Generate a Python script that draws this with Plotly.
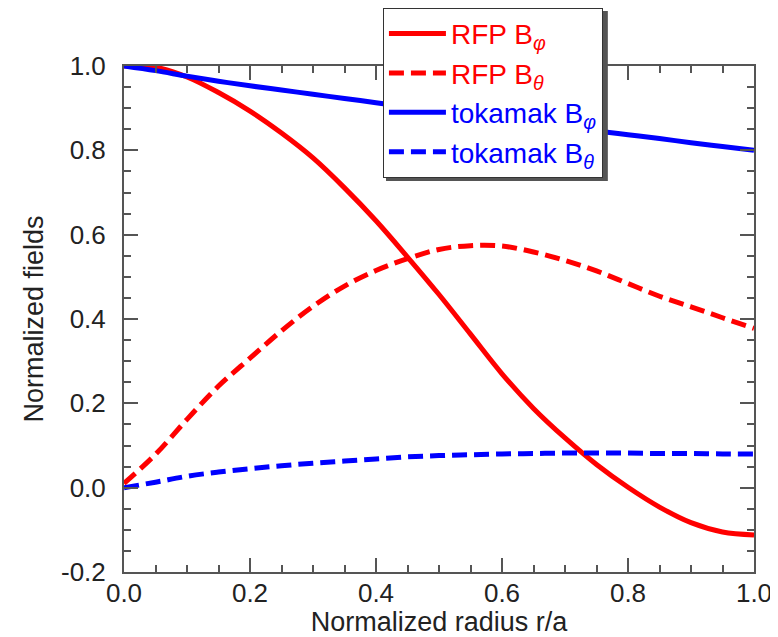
import plotly.graph_objects as go

# ---- data ----
r = [0.0, 0.05, 0.10, 0.15, 0.20, 0.25, 0.30, 0.35, 0.40, 0.45, 0.50,
     0.55, 0.60, 0.65, 0.70, 0.75, 0.80, 0.85, 0.90, 0.95, 1.00]

rfp_bphi = [1.000, 0.997, 0.974, 0.937, 0.893, 0.841, 0.782, 0.711, 0.633, 0.547, 0.458,
            0.364, 0.270, 0.188, 0.118, 0.055, 0.001, -0.046, -0.083, -0.105, -0.112]

rfp_btheta = [0.010, 0.079, 0.162, 0.241, 0.307, 0.372, 0.430, 0.478, 0.515, 0.543, 0.565,
              0.574, 0.573, 0.559, 0.539, 0.514, 0.484, 0.454, 0.429, 0.403, 0.378]

tok_bphi = [1.000, 0.989, 0.976, 0.964, 0.953, 0.943, 0.933, 0.923, 0.913, 0.903, 0.894,
            0.884, 0.875, 0.865, 0.856, 0.846, 0.837, 0.828, 0.818, 0.809, 0.800]

tok_btheta = [0.000, 0.013, 0.027, 0.037, 0.045, 0.052, 0.058, 0.063, 0.068, 0.073, 0.076,
              0.078, 0.080, 0.081, 0.082, 0.082, 0.082, 0.081, 0.081, 0.080, 0.080]

x_tickvals = [0.0, 0.2, 0.4, 0.6, 0.8, 1.0]
x_ticktext = ["0.0", "0.2", "0.4", "0.6", "0.8", "1.0"]
y_tickvals = [-0.2, 0.0, 0.2, 0.4, 0.6, 0.8, 1.0]
y_ticktext = ["-0.2", "0.0", "0.2", "0.4", "0.6", "0.8", "1.0"]

RED = "#ff0000"
BLUE = "#0000ff"
FONT = "Liberation Sans, Arial, Helvetica, sans-serif"

series = [
    ("rfp_bphi", rfp_bphi, RED, "solid", "RFP B", "φ"),
    ("rfp_btheta", rfp_btheta, RED, "15px,7px", "RFP B", "θ"),
    ("tok_bphi", tok_bphi, BLUE, "solid", "tokamak B", "φ"),
    ("tok_btheta", tok_btheta, BLUE, "15px,7px", "tokamak B", "θ"),
]

fig = go.Figure()
for key, vals, col, dash, label, sub in series:
    fig.add_trace(go.Scatter(
        x=r, y=vals, mode="lines",
        line=dict(color=col, width=5, dash=dash, shape="spline", smoothing=1.0),
        name=f'<span style="color:{col}">{label}<sub><i>{sub}</i></sub></span>',
        legendgroup=key,
        hoverinfo="skip",
    ))

axis_common = dict(
    showline=True, linecolor="#555555", linewidth=2, mirror="ticks",
    ticks="inside", ticklen=14, tickwidth=2, tickcolor="#555555",
    showgrid=False, zeroline=False,
    tickfont=dict(family=FONT, size=26, color="#222222"),
    minor=dict(ticks="inside", ticklen=7, tickwidth=2, tickcolor="#555555", dtick=0.05, showgrid=False),
)

fig.update_xaxes(
    range=[0, 1], tickvals=x_tickvals, ticktext=x_ticktext,
    title=dict(text="Normalized radius r/a", font=dict(family=FONT, size=27, color="#222222"), standoff=2),
    ticklabelstandoff=-3,
    **axis_common,
)
fig.update_yaxes(
    range=[-0.2, 1.0], tickvals=y_tickvals, ticktext=y_ticktext,
    title=dict(text="Normalized fields", font=dict(family=FONT, size=27, color="#222222"), standoff=10),
    ticklabelstandoff=11,
    **axis_common,
)

# the page body adds an 8px offset, so the figure is drawn 8px smaller
fig.update_layout(
    width=770, height=629,
    margin=dict(l=116, r=24, t=58, b=65, autoexpand=False),
    paper_bgcolor="white", plot_bgcolor="white",
    showlegend=True,
    legend=dict(
        x=0.411, y=1.115, xanchor="left", yanchor="top",
        bgcolor="white", bordercolor="#333333", borderwidth=1,
        font=dict(family=FONT, size=28),
        tracegroupgap=0, itemwidth=57,
    ),
    shapes=[dict(type="rect", xref="paper", yref="paper",
                 x0=0.4159, x1=0.768, y0=0.7727, y1=1.1087,
                 fillcolor="#555555", line=dict(width=0), layer="above")],
)

fig.write_html("out.html")
